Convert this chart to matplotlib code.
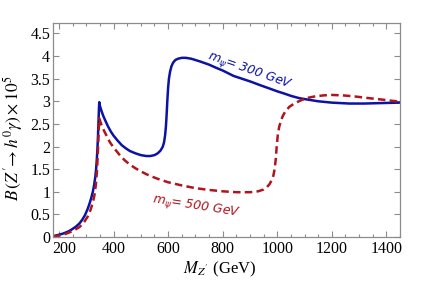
import matplotlib
matplotlib.use('Agg')
import matplotlib.pyplot as plt
from matplotlib.ticker import MultipleLocator

# m_psi = 300 GeV (blue, solid)
mz_300 = [178, 190, 200, 212, 225, 237, 250, 262, 275, 285, 295, 305, 312, 318, 324,
          329, 333, 336, 339, 341, 343, 345, 346.5, 347.5,
          350, 355, 362, 370, 380, 390, 400, 415, 430, 445, 460, 480, 500, 520, 535,
          550, 562, 572, 580, 585, 589, 592, 594.5, 597, 600, 603, 607, 612, 618, 626,
          636, 650, 665, 685, 717, 750, 776, 800, 840, 870, 900, 940, 968, 1000, 1021,
          1050, 1080, 1109, 1150, 1200, 1264, 1320, 1380, 1450]
br_300 = [0.02, 0.035, 0.05, 0.07, 0.10, 0.13, 0.18, 0.23, 0.30, 0.38, 0.48, 0.62, 0.74, 0.86, 1.00,
          1.16, 1.33, 1.50, 1.75, 1.97, 2.25, 2.58, 2.85, 2.98,
          2.90, 2.80, 2.68, 2.57, 2.44, 2.33, 2.24, 2.13, 2.03, 1.96, 1.90, 1.85, 1.81, 1.79, 1.79,
          1.81, 1.85, 1.91, 1.99, 2.09, 2.25, 2.45, 2.70, 3.00, 3.30, 3.50, 3.65, 3.77, 3.85, 3.91,
          3.94, 3.96, 3.96, 3.94, 3.88, 3.81, 3.74, 3.68, 3.56, 3.50, 3.44, 3.35, 3.29, 3.22, 3.18,
          3.12, 3.07, 3.04, 3.00, 2.97, 2.95, 2.95, 2.96, 2.97]

# m_psi = 500 GeV (red, dashed)
mz_500 = [178, 200, 225, 250, 275, 290, 305, 315, 324, 330, 335, 339, 342, 344, 346, 347.5,
          350, 356, 365, 375, 387, 400, 420, 440, 460, 480, 500, 530, 560, 600, 650, 700,
          750, 800, 850, 900, 930, 950, 962, 972, 980, 986, 991, 995, 998, 1002, 1007,
          1013, 1020, 1030, 1045, 1065, 1090, 1115, 1140, 1170, 1200, 1240, 1280, 1320,
          1380, 1450]
br_500 = [0.01, 0.03, 0.07, 0.13, 0.22, 0.31, 0.45, 0.59, 0.76, 0.93, 1.15, 1.45, 1.80, 2.10, 2.42, 2.62,
          2.58, 2.47, 2.35, 2.23, 2.09, 1.98, 1.83, 1.70, 1.60, 1.52, 1.45, 1.36, 1.29, 1.21, 1.14, 1.08,
          1.04, 1.01, 0.99, 0.99, 1.01, 1.05, 1.10, 1.17, 1.26, 1.36, 1.52, 1.75, 2.00, 2.25, 2.43,
          2.56, 2.67, 2.78, 2.88, 2.96, 3.03, 3.08, 3.11, 3.13, 3.14, 3.13, 3.11, 3.08,
          3.04, 2.99]

x_ticks = [200, 400, 600, 800, 1000, 1200, 1400]
x_labels = ['200', '400', '600', '800', '1000', '1200', '1400']
y_ticks = [0, 0.5, 1, 1.5, 2, 2.5, 3, 3.5, 4, 4.5]
y_labels = ['0', '0.5', '1', '1.5', '2', '2.5', '3', '3.5', '4', '4.5']

blue = '#0c12a6'
red = '#b0141c'
frame = '#8c8c8c'

plt.rcParams['font.family'] = 'serif'
plt.rcParams['font.serif'] = ['Liberation Serif', 'DejaVu Serif']
plt.rcParams['mathtext.fontset'] = 'stix'

fig = plt.figure(figsize=(4.32, 2.85), dpi=100)
ax = fig.add_axes([0.1227, 0.1684, 0.8032, 0.7509])

ax.plot(mz_300, br_300, color=blue, lw=1.8, solid_joinstyle='round')
ax.plot(mz_500, br_500, color=red, lw=1.8, dashes=(3.0, 1.7))

ax.set_xlim(178, 1450)
ax.set_ylim(0, 4.73)

ax.set_xticks(x_ticks)
# first label is drawn separately, nudged right so it clears the y "0"
ax.set_xticklabels([''] + x_labels[1:])
ax.xaxis.set_minor_locator(MultipleLocator(50))
ax.set_yticks(y_ticks)
ax.set_yticklabels(y_labels)

for s in ax.spines.values():
    s.set_color(frame)
    s.set_linewidth(0.9)
ax.tick_params(which='both', direction='in', top=True, right=True, color=frame,
               labelsize=11.5, width=0.8)
ax.tick_params(which='major', length=4.0)
ax.tick_params(which='minor', length=2.2)
ax.tick_params(axis='x', pad=3)
ax.tick_params(axis='y', pad=2)

ax.annotate(x_labels[0], xy=(x_ticks[0], 0), xycoords=('data', 'axes fraction'),
            xytext=(3.5, -3), textcoords='offset points', ha='center', va='top',
            fontsize=11.5)

ax.set_xlabel(r"$M_{Z'}$ (GeV)", fontsize=12)
ax.xaxis.set_label_coords(0.481, -0.105)
ax.xaxis.label.set_va('top')
ax.set_ylabel(r"$B\,(Z'\!\rightarrow h^0\gamma)\times 10^5$", fontsize=12.5)
ax.yaxis.set_label_coords(-0.082, 0.46)

ax.text(901, 3.67, r'$m_\psi$= 300 GeV', color=blue, fontsize=9, rotation=-19.5,
        family='DejaVu Sans', style='italic', math_fontfamily='dejavusans',
        ha='center', va='center', rotation_mode='anchor')
ax.text(703, 0.68, r'$m_\psi$= 500 GeV', color=red, fontsize=9, rotation=-9,
        family='DejaVu Sans', style='italic', math_fontfamily='dejavusans',
        ha='center', va='center', rotation_mode='anchor')

fig.savefig('out.png', dpi=100)
